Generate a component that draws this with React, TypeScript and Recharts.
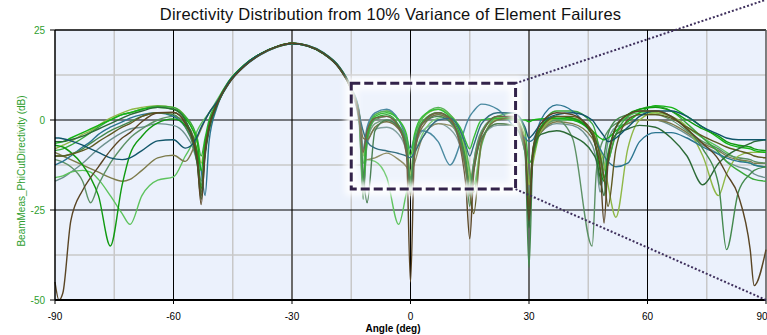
import React from 'react';
import {
  LineChart,
  Line,
  XAxis,
  YAxis,
  CartesianGrid,
  ReferenceLine,
  ReferenceArea,
  Label,
} from 'recharts';

// angle grid (deg), denser around the nulls
const angles = [
  -90, -89, -88, -86, -83, -81, -79, -76, -73, -71,
  -68, -64, -60, -57, -55, -54, -53, -52, -51, -49,
  -46, -42, -38, -34, -30, -26, -22, -18, -15, -13,
  -12, -11, -9, -6, -3, -1, 0, 1, 3, 7,
  10, 13, 14, 15, 16, 18, 22, 26, 29, 30,
  31, 33, 37, 41, 46, 47, 48, 49, 50, 52,
  55, 58, 62, 66, 70, 74, 78, 80, 83, 86,
  87, 90,
];

// directivity (dB) per failure case
const brown = [
  -45, -50, -48, -28, -19.5, -16, -13, -8.5, -5, -3.5,
  -0.5, 2, 2.2, -1, -6, -11, -23.5, -9, -2, 4.5,
  10.2, 15, 18.2, 20.3, 21.3, 20.6, 18.4, 14.3, 8.3, 0.5,
  -9, -3, 0.5, 1, -2, -10, -45, -10, -1, 2,
  0.5, -10, -18, -33, -15, -4, 1, 1, -7, -28,
  -8, -1, 2, 1.5, -4, -8, -13, -28.6, -12, -2,
  1.5, 2.5, 2.5, 1, -2.5, -6.5, -11, -15, -21, -36,
  -46, -36,
];
const darkTeal = [
  -5, -5, -5.2, -5.8, -7, -8, -9, -10.5, -11, -10.5,
  -8.5, -5.8, -5.5, -7.8, -6.5, -4.5, -2, 0, 2, 5,
  10.6, 15.3, 18.4, 20.3, 21.2, 20.5, 18.4, 14.4, 8.5, 1.5,
  -3, -6, -7.8, -8.6, -9.3, -10, -10.5, -9, -5, 0,
  0.5, -4, -7, -10, -7, -1, 2, 2, -2, -5,
  -4, -1, 1.5, 2, 0, -1.5, -3, -4.5, -6, -5,
  -2, 1, 2.5, 2.5, 1, -2, -4, -5, -5.5, -5.5,
  -5.5, -5.5,
];
const olive = [
  -9, -9.5, -10, -11, -12.5, -13.5, -14.5, -16, -17, -16.5,
  -14, -10.5, -9.8, -11.5, -8, -5, -2.5, 0, 2, 5,
  10.4, 15.1, 18.2, 20.2, 21.2, 20.5, 18.5, 14.6, 8.6, 1.5,
  -8, -11, -10.5, -9.2, -11, -13, -15, -12, -5, -1,
  -1.5, -7, -11, -17, -12, -5, -1, -1.5, -8, -18,
  -9, -3.5, -0.5, -1, -5, -7.5, -11, -16, -12, -4,
  -1, 0, 0, -1, -3.5, -6.5, -8.5, -10, -11, -11.5,
  -12, -12,
];
const grayGreen = [
  -11, -11.3, -11.7, -13, -17, -23, -18, -12, -7.5, -5,
  -2.5, 0, 1, -1, -4.5, -9, -17, -8, -2, 4,
  10.3, 15.1, 18.3, 20.3, 21.3, 20.5, 18.4, 14.4, 8.4, 0,
  -20, -6, -1, 0, -2, -7, -17, -7, -1, 1.5,
  -0.5, -8, -13, -21, -12, -3.5, 0.5, 0, -8, -22,
  -9, -2.5, 0, -5, -35, -15, -8, -5, -3, -1,
  0.5, 1.5, 1.5, 0, -3, -6, -8, -9.5, -10.5, -11,
  -11.5, -12,
];
const green = [
  -7, -7.2, -7.5, -9, -12.5, -16, -21, -35, -18, -9.5,
  -4.5, -0.8, 0.3, -1.5, -5, -9, -19, -9, -2, 4.5,
  10.5, 15.3, 18.4, 20.4, 21.3, 20.6, 18.5, 14.5, 8.6, 1,
  -17, -5, 0.5, 1.5, -1.5, -7, -19, -8, -0.5, 2,
  0.5, -6, -11, -19, -14, -4, 1, 0.5, -7, -25,
  -8, -2, 1, 0.5, -4, -8, -14, -17, -10, -2,
  1.5, 3, 3.5, 2.5, 0, -2.5, -4.5, -6, -7, -7.5,
  -8, -8.5,
];
const lightGreen = [
  -16, -15.8, -15.5, -14.5, -14, -14.5, -16.5, -21, -26, -29,
  -21, -16.7, -15.8, -10, -6, -3, -1, 0.5, 2, 5.5,
  10.8, 15.4, 18.4, 20.3, 21.2, 20.5, 18.3, 14.3, 8.4, 1,
  -12, -11, -11.5, -16, -29, -20, -15, -10, -4, 0.5,
  1, -5, -9, -16, -18, -6, 0, 0.5, -6, -17,
  -10, -3, 0, 0, -3, -6, -9, -14, -9, -2,
  1, 2, 2, 1, -2, -5, -7.5, -9, -11, -12,
  -12.5, -13,
];
const yellowGreen = [
  -8, -7.5, -7, -6, -4, -3, -1.5, 0.5, 2, 2.8,
  3.5, 4, 3.5, 1, -3, -6, -12, -6, -1, 4.8,
  10.7, 15.3, 18.3, 20.2, 21.2, 20.6, 18.6, 14.7, 9, 2,
  -10, -3, 1.5, 2.5, 0, -5, -15, -6, 0.5, 3,
  1.5, -5, -10, -17, -20, -6, 0.5, 1, -5, -18,
  -12, -3, 0.5, 0.5, -3, -5, -8, -12, -18, -27,
  -8, 0, 2, 1, -2, -10, -21, -15, -10, -9,
  -9, -9,
];
const darkGreen = [
  -6, -6, -6, -5.5, -4.5, -3.5, -2.5, -1, 0.5, 1.5,
  2.5, 3.5, 3, 0, -6, -12, -22, -10, -3, 4,
  10.2, 15, 18.2, 20.3, 21.3, 20.7, 18.6, 14.6, 8.6, 0,
  -14, -23, -3, 0, -2, -8, -20, -8, -1, 1,
  -0.5, -7, -12, -19, -13, -5, -1, -1.5, -9, -30,
  -9, -4, -3, -4.5, -9, -11, -16, -21, -10, -4,
  -2.5, -1.5, -2, -5, -10, -18, -12, -10, -8, -6.5,
  -6, -5.5,
];
const mossGreen = [
  -10, -10, -10, -9.5, -8, -6.5, -5, -3, -1.5, -0.5,
  1, 2, 1.5, -2, -7, -12, -20, -8, -2, 4.2,
  10.4, 15.2, 18.3, 20.3, 21.3, 20.6, 18.5, 14.5, 8.5, 0.5,
  -22, -6, 0, 1, -1.5, -6, -18, -7, -0.5, 2,
  0, -7, -13, -24, -12, -3, 1, 0.5, -9, -41,
  -10, -2, 1, 0.5, -4, -8, -18, -10, -4, 0,
  1.5, 2.5, 2.5, 1, -2.5, -8, -18, -36, -20, -15,
  -14, -13,
];
const tealBlue = [
  -12.5, -12, -11.5, -10, -7.5, -6, -4, -2, -0.5, 0.5,
  1.5, 2, 1, -2, -6, -9, -14, -21, -6, 3.5,
  10, 14.9, 18.1, 20.2, 21.3, 20.7, 18.7, 14.8, 9, 2.5,
  -8, -2, 2, 3, 0, -5, -8, -5, -3, -6,
  -12.5, -5, -1.5, 1, 2.5, 4.4, 3, -1.5, -5, -6,
  -5.5, 0, 4.2, 2.5, -4, -6, -8, -10, -11.5, -13,
  -12, -6, -3.5, -3.5, -5, -7.5, -9.5, -10.5, -11.5, -12,
  -12.5, -13,
];
const brightGreen = [
  -6.5, -6.3, -6, -5, -3.5, -2.5, -1.5, 0, 1.5, 2,
  3, 3.5, 3, 0.5, -3, -6, -14, -6, -1, 4.5,
  10.6, 15.3, 18.4, 20.3, 21.3, 20.6, 18.4, 14.5, 8.6, 1,
  -16, -4, 1, 2, 0, -4, -10, -4, 1, 3,
  1, -3, -6, -8, -5, 0, 0.5, 0.2, 0, -0.5,
  0, 0.3, 0.5, 0, -3, -4, -5, -5.5, -5, -3,
  -0.5, 2, 4, 3.5, 1, -2, -5, -6.5, -7.5, -8,
  -8.5, -9,
];
const oliveDark = [
  -10, -10, -10, -9.5, -8.5, -7.5, -6, -4, -2, -1,
  1, 2, 2, -0.5, -5, -10, -21, -8, -2, 4.3,
  10.4, 15.2, 18.3, 20.3, 21.3, 20.6, 18.5, 14.6, 8.7, 2,
  -5, -5.5, -2, -0.5, -2.5, -8, -21, -9, -2, 1.5,
  0, -8, -14, -20, -26, -6, 0, 0.5, -8, -24,
  -10, -2.5, 1, 1, -3, -6, -10, -16, -24, -8,
  0, 1.5, 1.5, 0.5, -2, -4.5, -6.5, -7.5, -8.5, -9.5,
  -10, -10.5,
];
const grayTeal = [
  -17, -16.5, -16, -14.5, -12, -10, -8, -5.5, -3.5, -2.5,
  -2, -1, -1.5, -4, -8, -12, -18, -9, -2.5, 4,
  10.3, 15.1, 18.2, 20.2, 21.2, 20.5, 18.4, 14.3, 8.2, -1,
  -19, -7, -2.5, -2, -4, -9, -18, -9, -3, -1,
  -2.5, -9, -14, -21, -13, -5, -1.5, -1.5, -9, -21,
  -9, -3.5, -1, -1.5, -7, -11, -20, -14, -6, -2,
  -1, 0, 0, -1.5, -4, -7, -9.5, -11.5, -13, -14,
  -15, -16,
];
const grassGreen = [
  -8.5, -8.3, -8, -7, -5, -3.5, -2, 0, 1.5, 2,
  3, 3.8, 3.5, 1, -2, -5, -10, -5, 0, 5,
  10.8, 15.4, 18.4, 20.3, 21.2, 20.5, 18.4, 14.5, 8.7, 2,
  -12, -3, 1.5, 2.5, 0, -6, -17, -5, 0.5, 3.5,
  1.5, -4, -8, -14, -20, -7, 1, 2, -3, -12,
  -10, -2, 2.5, 2.5, -1, -4, -10, -16, -12, -4,
  1, 3, 3.8, 2.5, -1, -5, -9, -11.5, -14, -16,
  -16.5, -17,
];

const xTicks = [-90, -60, -30, 0, 30, 60, 90];
const yTicks = [-50, -25, 0, 25];
const minorAngles = [-75, -45, -15, 15, 45, 75];
const minorLevels = [12.5, -12.5, -37.5];
const blackAngles = [-60, 0, 60];
const greyAngles = [-30, 30];
const blackLevels = [0, -25];

// zoom box annotation (deg / dB)
const boxX = [-15, 26.6];
const boxY = [-19.2, 10.2];

const series = [
  { key: 'grayTeal', values: grayTeal, color: '#6d918e' },
  { key: 'lightGreen', values: lightGreen, color: '#5dc35d' },
  { key: 'olive', values: olive, color: '#7d7b4b' },
  { key: 'grayGreen', values: grayGreen, color: '#5d9165' },
  { key: 'yellowGreen', values: yellowGreen, color: '#8fb847' },
  { key: 'grassGreen', values: grassGreen, color: '#3aa83a' },
  { key: 'tealBlue', values: tealBlue, color: '#2b7590' },
  { key: 'brightGreen', values: brightGreen, color: '#14b414' },
  { key: 'mossGreen', values: mossGreen, color: '#44894d' },
  { key: 'green', values: green, color: '#109a10' },
  { key: 'oliveDark', values: oliveDark, color: '#5f5a22' },
  { key: 'darkGreen', values: darkGreen, color: '#2c6a36' },
  { key: 'darkTeal', values: darkTeal, color: '#11566a' },
  { key: 'brown', values: brown, color: '#5a4524' },
];

const data = angles.map((angle, i) => {
  const row: Record<string, number> = { angle };
  series.forEach((s) => {
    row[s.key] = s.values[i];
  });
  return row;
});

const FONT = '"Liberation Sans", Arial, sans-serif';

const ZoomBox = (props: any) => {
  const { x, y, width, height } = props;
  return (
    <g>
      <defs>
        <filter id="zoomGlow" x="-20%" y="-20%" width="140%" height="140%">
          <feGaussianBlur stdDeviation="3" />
        </filter>
      </defs>
      <rect x={x} y={y} width={width} height={height} fill="#ffffff" fillOpacity={0.15}
        stroke="#ffffff" strokeWidth={12} strokeOpacity={0.95} filter="url(#zoomGlow)" />
      <rect x={x} y={y} width={width} height={height} fill="none"
        stroke="#33234a" strokeWidth={3} strokeDasharray="9 4" />
    </g>
  );
};

const XTitle = () => (
  <text x={393} y={332} textAnchor="middle" fontSize={10} fontWeight="bold" fill="#000" fontFamily={FONT}>
    Angle (deg)
  </text>
);

const YTitle = () => (
  <text x={25} y={171} transform="rotate(-90 25 171)" textAnchor="middle" fontSize={10}
    fill="#2e9e2e" fontFamily={FONT}>
    BeamMeas_PhiCutDirectivity (dB)
  </text>
);

export default function App() {
  return (
    <div style={{ position: 'absolute', left: 0, top: 0, width: 767, height: 335, background: '#fff', fontFamily: FONT }}>
      <div style={{ position: 'absolute', left: 0, top: 5, width: 781, textAlign: 'center', fontSize: 16.5, lineHeight: '19px', letterSpacing: 0.2, color: '#111' }}>
        Directivity Distribution from 10% Variance of Element Failures
      </div>
      <LineChart width={767} height={335} data={data} margin={{ top: 30, right: 1, bottom: 15, left: 0 }}>
        <CartesianGrid fill="#ebf1fc" horizontal={false} vertical={false} />
        {minorAngles.map((a) => (
          <ReferenceLine key={'ma' + a} x={a} stroke="#c8c8c8" strokeWidth={1.5} zIndex={-90} />
        ))}
        {minorLevels.map((l) => (
          <ReferenceLine key={'ml' + l} y={l} stroke="#c8c8c8" strokeWidth={1.5} zIndex={-90} />
        ))}
        {greyAngles.map((a) => (
          <ReferenceLine key={'ga' + a} x={a} stroke="#6a6a6a" strokeWidth={2} zIndex={-80} />
        ))}
        {blackAngles.map((a) => (
          <ReferenceLine key={'ba' + a} x={a} stroke="#000" strokeWidth={1} zIndex={-80} />
        ))}
        {blackLevels.map((l) => (
          <ReferenceLine key={'bl' + l} y={l} stroke="#000" strokeWidth={1} zIndex={-80} />
        ))}
        <ReferenceLine y={25} stroke="#000" strokeWidth={1.5} />
        <ReferenceLine x={90} stroke="#555" strokeWidth={1.5} />
        <XAxis
          dataKey="angle"
          type="number"
          domain={[-90, 90]}
          ticks={xTicks}
          height={20}
          tickSize={4}
          tickMargin={9}
          axisLine={{ stroke: '#000', strokeWidth: 2 }}
          tickLine={{ stroke: '#000' }}
          tick={{ fill: '#000', fontSize: 10, fontFamily: FONT }}
          label={<Label content={XTitle} />}
        />
        <YAxis
          type="number"
          domain={[-50, 25]}
          ticks={yTicks}
          width={55}
          tickSize={5}
          tickMargin={5}
          axisLine={{ stroke: '#000', strokeWidth: 1.5 }}
          tickLine={{ stroke: '#000' }}
          tick={{ fill: '#2e9e2e', fontSize: 10, fontFamily: FONT }}
          label={<Label content={YTitle} />}
        />
        {series.map((s) => (
          <Line
            key={s.key}
            dataKey={s.key}
            type="monotone"
            stroke={s.color}
            strokeWidth={1.4}
            dot={false}
            isAnimationActive={false}
          />
        ))}
        <ReferenceArea x1={boxX[0]} x2={boxX[1]} y1={boxY[0]} y2={boxY[1]} shape={ZoomBox} ifOverflow="visible" zIndex={1500} />
        <ReferenceLine
          segment={[{ x: boxX[1], y: boxY[1] }, { x: 90, y: 33.4 }]}
          stroke="#3e2f5c"
          strokeWidth={2}
          strokeDasharray="2 2"
          ifOverflow="visible"
          zIndex={1500}
        />
        <ReferenceLine
          segment={[{ x: boxX[1], y: boxY[0] }, { x: 90, y: -50 }]}
          stroke="#3e2f5c"
          strokeWidth={2}
          strokeDasharray="2 2"
          ifOverflow="visible"
          zIndex={1500}
        />
      </LineChart>
    </div>
  );
}
